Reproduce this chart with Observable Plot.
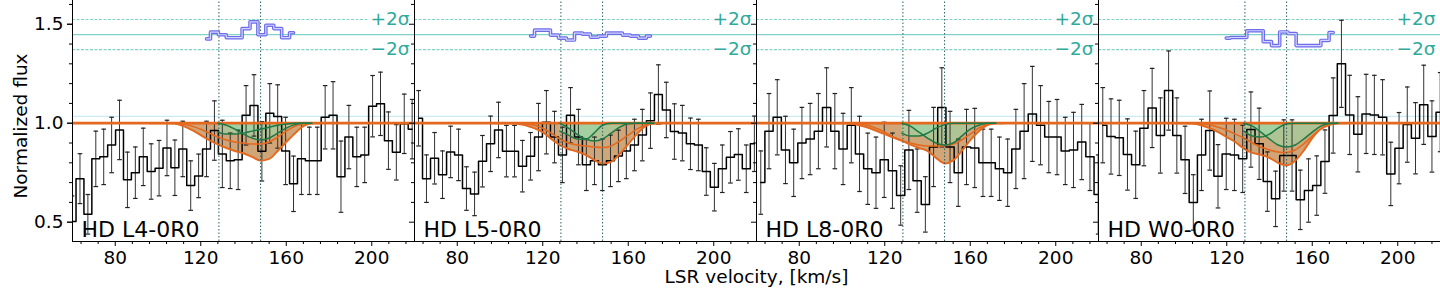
<!DOCTYPE html>
<html><head><meta charset="utf-8">
<script src="https://cdn.jsdelivr.net/npm/d3@7"></script>
<script src="https://cdn.jsdelivr.net/npm/@observablehq/plot@0.6"></script>
<style>body{margin:0;background:#fff;overflow:hidden;}</style>
</head><body><div id="chart"></div>
<script>
// ---------- data ----------
const panels = ["HD L4-0R0", "HD L5-0R0", "HD L8-0R0", "HD W0-0R0"];

const vel1 = [59.8, 63.5, 67.2, 70.9, 74.6, 78.3, 82.0, 85.7, 89.4, 93.1, 96.8, 100.5, 104.2, 107.9, 111.6, 115.3, 119.0, 122.7, 126.4, 130.1, 133.8, 137.5, 141.2, 144.9, 148.6, 152.3, 156.0, 159.7, 163.4, 167.1, 170.8, 174.5, 178.2, 181.9, 185.6, 189.3, 193.0, 196.7, 200.4, 204.1, 207.8, 211.5, 215.2, 218.9];
const flux1 = [0.503, 0.72, 0.54, 0.82, 0.83, 0.89, 0.966, 0.714, 0.75, 0.83, 0.756, 0.773, 0.875, 0.775, 0.87, 0.685, 0.734, 0.87, 0.963, 0.845, 0.81, 0.815, 1.04, 1.09, 0.858, 1.05, 1.034, 0.86, 0.694, 0.82, 0.81, 0.81, 1.03, 1.04, 0.73, 0.93, 0.83, 0.84, 1.086, 1.098, 0.912, 0.853, 0.997, 0.97];
const err1 = [0.13, 0.126, 0.1, 0.14, 0.14, 0.14, 0.15, 0.14, 0.13, 0.145, 0.14, 0.14, 0.14, 0.14, 0.14, 0.125, 0.11, 0.14, 0.15, 0.17, 0.14, 0.15, 0.15, 0.155, 0.15, 0.15, 0.16, 0.17, 0.14, 0.18, 0.17, 0.17, 0.16, 0.17, 0.18, 0.16, 0.15, 0.14, 0.155, 0.16, 0.145, 0.14, 0.15, 0.15];

const vel2 = [61.9, 65.6, 69.4, 73.1, 76.9, 80.6, 84.3, 88.1, 91.8, 95.6, 99.3, 103.0, 106.8, 110.5, 114.3, 118.0, 121.7, 125.5, 129.2, 133.0, 136.7, 140.4, 144.2, 147.9, 151.7, 155.4, 159.1, 162.9, 166.6, 170.4, 174.1, 177.8, 181.6, 185.3, 189.1, 192.8, 196.5, 200.3, 204.0, 207.8, 211.5, 215.2, 219.0];
const flux2 = [1.025, 0.72, 0.823, 0.74, 0.855, 0.84, 0.67, 0.643, 0.808, 0.896, 0.966, 0.859, 0.859, 0.783, 0.833, 0.93, 1.005, 0.93, 0.84, 1.04, 0.93, 0.79, 0.81, 0.79, 0.81, 0.835, 0.86, 0.89, 0.94, 1.013, 1.145, 1.067, 0.958, 0.95, 0.896, 0.89, 0.756, 0.677, 0.77, 0.828, 0.842, 0.77, 0.896];
const err2 = [0.14, 0.12, 0.13, 0.12, 0.13, 0.13, 0.11, 0.11, 0.13, 0.14, 0.14, 0.13, 0.13, 0.13, 0.12, 0.17, 0.16, 0.13, 0.14, 0.14, 0.14, 0.13, 0.12, 0.13, 0.13, 0.13, 0.14, 0.13, 0.13, 0.14, 0.15, 0.14, 0.14, 0.14, 0.13, 0.13, 0.12, 0.12, 0.12, 0.13, 0.13, 0.12, 0.14];

const vel34 = [62.0, 65.85, 69.7, 73.55, 77.4, 81.25, 85.1, 88.95, 92.8, 96.65, 100.5, 104.35, 108.2, 112.05, 115.9, 119.75, 123.6, 127.45, 131.3, 135.15, 139.0, 142.85, 146.7, 150.55, 154.4, 158.25, 162.1, 165.95, 169.8, 173.65, 177.5, 181.35, 185.2, 189.05, 192.9, 196.75, 200.6, 204.45, 208.3, 212.15, 216.0, 219.85];
const flux3 = [0.70, 0.96, 1.03, 0.865, 0.80, 0.90, 0.92, 0.96, 1.08, 0.96, 0.87, 0.99, 0.845, 0.77, 0.75, 0.815, 0.76, 0.635, 0.865, 0.71, 0.59, 0.88, 1.08, 0.88, 0.75, 0.88, 0.875, 0.80, 0.80, 0.77, 0.75, 0.87, 0.96, 1.047, 0.99, 0.93, 0.93, 0.86, 0.865, 0.905, 0.83, 0.64];
const err3 = [0.16, 0.19, 0.19, 0.17, 0.17, 0.18, 0.18, 0.19, 0.2, 0.19, 0.18, 0.19, 0.19, 0.18, 0.18, 0.19, 0.19, 0.15, 0.2, 0.16, 0.14, 0.2, 0.2, 0.18, 0.17, 0.19, 0.2, 0.17, 0.17, 0.16, 0.17, 0.2, 0.24, 0.24, 0.2, 0.18, 0.19, 0.17, 0.19, 0.19, 0.17, 0.2];
const flux4 = [0.99, 0.933, 0.926, 0.842, 0.79, 0.975, 1.077, 0.938, 1.165, 0.938, 0.815, 0.60, 0.84, 0.963, 0.732, 0.845, 0.84, 0.82, 0.968, 0.896, 0.705, 0.618, 0.837, 0.837, 0.613, 0.66, 0.685, 0.806, 1.039, 1.30, 1.042, 0.944, 1.047, 1.042, 1.03, 0.744, 0.874, 0.993, 0.924, 1.093, 0.933, 1.056];
const err4 = [0.19, 0.19, 0.19, 0.18, 0.17, 0.19, 0.2, 0.19, 0.2, 0.19, 0.17, 0.14, 0.18, 0.2, 0.16, 0.18, 0.18, 0.17, 0.19, 0.18, 0.15, 0.14, 0.18, 0.18, 0.15, 0.16, 0.15, 0.16, 0.19, 0.22, 0.2, 0.19, 0.2, 0.2, 0.19, 0.16, 0.18, 0.19, 0.18, 0.2, 0.18, 0.2];

// model profiles (sampled)
const modelV = [96, 100, 104, 108, 112, 116, 120, 124, 128, 132, 136, 140, 144, 148, 152, 156, 160, 164, 168, 172, 176];
const low1 = [1, 1, 1, 0.998, 0.985, 0.965, 0.94, 0.915, 0.893, 0.875, 0.86, 0.848, 0.83, 0.812, 0.82, 0.86, 0.905, 0.948, 0.985, 1, 1];
const upp1 = [1, 1, 1, 1, 0.995, 0.985, 0.97, 0.95, 0.93, 0.915, 0.905, 0.9, 0.895, 0.895, 0.905, 0.93, 0.96, 0.985, 0.997, 1, 1];
const low2 = [1, 1, 1, 0.997, 0.99, 0.975, 0.955, 0.92, 0.89, 0.87, 0.857, 0.84, 0.815, 0.797, 0.805, 0.845, 0.895, 0.945, 0.985, 0.998, 1];
const upp2 = [1, 1, 1, 1, 0.997, 0.99, 0.975, 0.95, 0.92, 0.9, 0.89, 0.885, 0.88, 0.877, 0.885, 0.91, 0.94, 0.97, 0.99, 1, 1];
const low3 = [1, 1, 0.998, 0.99, 0.978, 0.962, 0.945, 0.927, 0.912, 0.892, 0.875, 0.86, 0.825, 0.797, 0.812, 0.86, 0.915, 0.96, 0.99, 1, 1];
const upp3 = [1, 1, 1, 0.998, 0.99, 0.975, 0.955, 0.93, 0.912, 0.9, 0.89, 0.885, 0.885, 0.887, 0.895, 0.915, 0.945, 0.975, 0.995, 1, 1];
const low4 = [1, 1, 0.998, 0.99, 0.975, 0.955, 0.93, 0.905, 0.872, 0.85, 0.84, 0.825, 0.8, 0.787, 0.81, 0.862, 0.925, 0.972, 0.995, 1, 1];
const upp4 = [1, 1, 1, 0.998, 0.992, 0.98, 0.965, 0.945, 0.925, 0.9, 0.88, 0.865, 0.855, 0.852, 0.865, 0.895, 0.935, 0.97, 0.99, 1, 1];

const greenV = [128, 132, 136, 140, 144, 148, 152, 156, 160, 164, 168, 172];
const gA1 = [1.0, 0.99, 0.97, 0.945, 0.925, 0.915, 0.925, 0.95, 0.975, 0.993, 1, 1];
const gB1 = [0.955, 0.945, 0.945, 0.95, 0.96, 0.97, 0.98, 0.99, 0.996, 1, 1, 1];
const gA2 = [1.0, 0.975, 0.945, 0.92, 0.91, 0.92, 0.95, 0.98, 0.997, 1, 1, 1];
const gB2 = [0.96, 0.94, 0.92, 0.918, 0.95, 0.99, 1, 1, 1, 1, 1, 1];
const gA3 = [1.0, 0.985, 0.955, 0.925, 0.9, 0.89, 0.9, 0.935, 0.97, 0.99, 1, 1];
const gB3 = [0.95, 0.935, 0.935, 0.95, 0.975, 0.993, 1, 1, 1, 1, 1, 1];
const gA4 = [1.0, 0.985, 0.955, 0.92, 0.89, 0.88, 0.89, 0.92, 0.955, 0.985, 0.998, 1];
const gB4 = [0.96, 0.935, 0.93, 0.945, 0.975, 0.997, 1, 1, 1, 1, 1, 1];

// residual traces (offset, top band)
const resV1 = [122.7, 126.4, 130.1, 133.8, 137.5, 141.2, 144.9, 148.6, 152.3, 156.0, 159.7, 163.4];
const res1 = [1.426, 1.46, 1.447, 1.432, 1.432, 1.478, 1.512, 1.447, 1.495, 1.478, 1.432, 1.457];
const resV2 = [114.3, 118.0, 121.7, 125.5, 129.2, 133.0, 136.7, 140.4, 144.2, 147.9, 151.7, 155.4, 159.1, 162.9, 166.6, 170.4];
const res2 = [1.44, 1.47, 1.47, 1.445, 1.43, 1.42, 1.455, 1.45, 1.435, 1.44, 1.455, 1.455, 1.445, 1.44, 1.43, 1.44];
const resV4 = [119.75, 123.6, 127.45, 131.3, 135.15, 139.0, 142.85, 146.7, 150.55, 154.4, 158.25, 162.1, 165.95, 169.8];
const res4 = [1.43, 1.433, 1.433, 1.467, 1.467, 1.412, 1.392, 1.461, 1.453, 1.392, 1.392, 1.392, 1.418, 1.458];

const sigmaLevels = [1.524, 1.372];
const sigmaLabels = ["+2σ", "−2σ"];
const residualZero = 1.448;
const refVelocities = [128.5, 148.0];
const majorXTicks = [80, 120, 160, 200];
const minorXTicks = [64, 72, 88, 96, 104, 112, 128, 136, 144, 152, 168, 176, 184, 192, 208, 216];
const majorYTicks = [0.5, 1.0, 1.5];
const minorYTicks = [0.6, 0.7, 0.8, 0.9, 1.1, 1.2, 1.3, 1.4, 1.6];

// ---------- tables ----------
const spec = [
  {panel: panels[0], vel: vel1, flux: flux1, err: err1, low: low1, upp: upp1, gA: gA1, gB: gB1, rv: resV1, r: res1},
  {panel: panels[1], vel: vel2, flux: flux2, err: err2, low: low2, upp: upp2, gA: gA2, gB: gB2, rv: resV2, r: res2},
  {panel: panels[2], vel: vel34, flux: flux3, err: err3, low: low3, upp: upp3, gA: gA3, gB: gB3, rv: null, r: null},
  {panel: panels[3], vel: vel34, flux: flux4, err: err4, low: low4, upp: upp4, gA: gA4, gB: gB4, rv: resV4, r: res4}
];
const obs = [], model = [], green = [], resid = [];
for (const s of spec) {
  s.vel.forEach((v, i) => obs.push({panel: s.panel, v, f: s.flux[i], e: s.err[i]}));
  modelV.forEach((v, i) => model.push({panel: s.panel, v, low: s.low[i], upp: s.upp[i]}));
  greenV.forEach((v, i) => green.push({panel: s.panel, v, a: s.gA[i], b: s.gB[i]}));
  if (s.rv) s.rv.forEach((v, i) => resid.push({panel: s.panel, v, r: s.r[i]}));
}
const labelRows = panels.map(p => ({panel: p}));
const sigmaRows = sigmaLevels.map((y, i) => ({y, t: sigmaLabels[i]}));

const capSymbol = {draw(ctx) { ctx.moveTo(-2.3, 0); ctx.lineTo(2.3, 0); }};

const orange = "#e4691e";
const teal = "#7fd3c8";

const chart = Plot.plot({
  width: 1440, height: 288,
  marginLeft: 72, marginRight: 0, marginTop: -2, marginBottom: 47,
  style: {fontFamily: "DejaVu Sans", fontSize: "18.5px", background: "white", color: "black"},
  fx: {domain: panels, padding: 0, axis: null, label: null},
  x: {domain: [60, 220]},
  y: {domain: [0.4025, 1.63]},
  marks: [
    Plot.ruleY([residualZero], {stroke: teal, strokeWidth: 1.2}),
    Plot.ruleY(sigmaLevels, {stroke: teal, strokeWidth: 1.2, strokeDasharray: "3,1.5"}),
    Plot.ruleY([1.035], {stroke: "#bfe6ef", strokeWidth: 1}),
    Plot.areaY(model, {fx: "panel", x: "v", y1: 1, y2: "low", curve: "monotone-x", fill: "#c48e55", fillOpacity: 0.8}),
    Plot.areaY(green, {fx: "panel", x: "v", y1: 1, y2: "a", curve: "monotone-x", fill: "#9ad8aa", fillOpacity: 0.6}),
    Plot.areaY(green, {fx: "panel", x: "v", y1: 1, y2: "b", curve: "monotone-x", fill: "#9ad8aa", fillOpacity: 0.6}),
    Plot.ruleX(obs, {fx: "panel", x: "v", y1: d => d.f - d.e, y2: d => d.f + d.e, stroke: "#333", strokeWidth: 1, clip: true}),
    Plot.dot(obs, {fx: "panel", x: "v", y: d => d.f + d.e, symbol: capSymbol, r: 2, stroke: "#222", strokeWidth: 1.2, clip: true}),
    Plot.dot(obs, {fx: "panel", x: "v", y: d => d.f - d.e, symbol: capSymbol, r: 2, stroke: "#222", strokeWidth: 1.2, clip: true}),
    Plot.line(obs, {fx: "panel", x: "v", y: "f", curve: "step", stroke: "black", strokeWidth: 1.5, clip: true}),
    Plot.line(model, {fx: "panel", x: "v", y: "upp", curve: "monotone-x", stroke: orange, strokeWidth: 1.6}),
    Plot.line(model, {fx: "panel", x: "v", y: "low", curve: "monotone-x", stroke: orange, strokeWidth: 2}),
    Plot.ruleY([1], {stroke: orange, strokeWidth: 2.8}),
    Plot.line(green, {fx: "panel", x: "v", y: "a", curve: "monotone-x", stroke: "#1d7a45", strokeWidth: 1.5}),
    Plot.line(green, {fx: "panel", x: "v", y: "b", curve: "monotone-x", stroke: "#1d7a45", strokeWidth: 1.5}),
    Plot.ruleX(refVelocities, {stroke: "#2c5f62", strokeWidth: 1, strokeDasharray: "1.5,2"}),
    Plot.line(resid, {fx: "panel", x: "v", y: "r", curve: "step", stroke: "#6d6deb", strokeWidth: 3.6}),
    Plot.line(resid, {fx: "panel", x: "v", y: "r", curve: "step", stroke: "#d4d4ff", strokeWidth: 1.2}),
    Plot.text(sigmaRows, {y: "y", text: "t", frameAnchor: "right", textAnchor: "end", lineAnchor: "middle", dx: -5, fill: "#2faa9c", stroke: "white", strokeWidth: 9, fontSize: 18.5}),
    Plot.text(labelRows, {fx: "panel", text: "panel", frameAnchor: "bottom-left", textAnchor: "start", lineAnchor: "bottom", dx: 9, dy: -5, fontSize: 22, fill: "black"}),
    Plot.text([{panel: panels[2], t: "LSR velocity, [km/s]"}], {fx: "panel", text: "t", frameAnchor: "bottom-left", textAnchor: "middle", lineAnchor: "middle", dy: 36, fontSize: 18.5}),
    Plot.text([{panel: panels[0], t: "Normalized flux"}], {fx: "panel", text: "t", frameAnchor: "left", rotate: -90, textAnchor: "middle", lineAnchor: "middle", dx: -51, dy: 6, fontSize: 18.5}),
    Plot.axisX(minorXTicks, {tickSize: 3, text: null, label: null}),
    Plot.axisX(majorXTicks, {tickSize: 5, tickPadding: 4, label: null}),
    Plot.axisY(minorYTicks, {tickSize: 3, text: null, label: null, facetAnchor: null}),
    Plot.axisY(majorYTicks, {tickSize: 5, text: null, label: null, facetAnchor: null}),
    Plot.axisY(majorYTicks, {tickSize: 5, tickPadding: 4, tickFormat: d3.format(".1f"), label: null}),
    Plot.frame({stroke: "black", strokeWidth: 1})
  ]
});
document.getElementById("chart").appendChild(chart);
</script>
</body></html>
